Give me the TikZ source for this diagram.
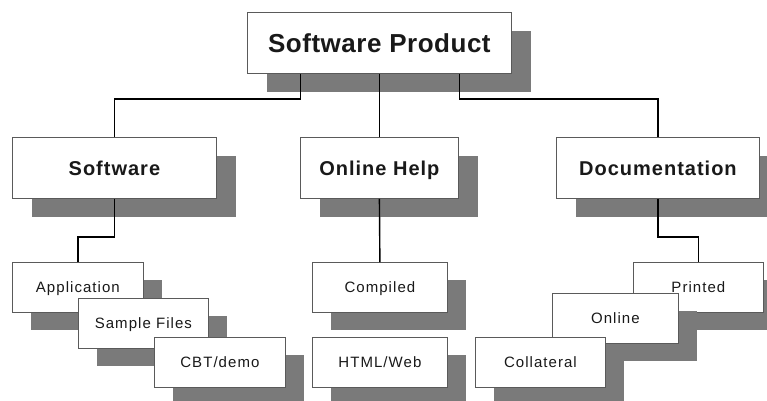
\documentclass[tikz,border=0pt]{standalone}
\usepackage{fontspec}
\setmainfont{Liberation Sans}
\newfontfamily\titlefont[LetterSpace=2]{Liberation Sans}
\newfontfamily\headfont[LetterSpace=5]{Liberation Sans}
\newfontfamily\leaffont[LetterSpace=7]{Liberation Sans}
\usepackage{tikz}
\usetikzlibrary{shadows}
\definecolor{shadowgray}{RGB}{122,122,122}
\definecolor{boxline}{RGB}{90,90,90}
\tikzset{
  card/.style={draw=boxline, line width=0.8pt, fill=white, anchor=north west,
    inner sep=0pt, align=center, text=black!90, text depth=0pt},
  bigcard/.style={card, minimum height=61pt,
    drop shadow={shadow xshift=20pt, shadow yshift=-19pt, fill=shadowgray, opacity=1}},
  headcard/.style={bigcard, text height=14.4pt, font=\headfont\bfseries\fontsize{20}{24}\selectfont},
  smallcard/.style={card, minimum width=130pt, minimum height=50pt, text height=10.8pt,
    font=\leaffont\fontsize{15}{18}\selectfont,
    drop shadow={shadow xshift=19pt, shadow yshift=-18pt, fill=shadowgray, opacity=1}},
  link/.style={draw=black, line width=1.4pt}
}

\begin{document}
\begin{tikzpicture}[x=1pt, y=-1pt]
            \useasboundingbox (0, 0) rectangle (767, 400);
            % top level
            \node[bigcard, minimum width=264pt, text height=18.7pt, font=\titlefont\bfseries\fontsize{26}{30}\selectfont] (prod) at (247, 12) {Software Product};
            % second level
            \node[headcard, minimum width=204pt] (sw) at (12, 137) {Software};
            \node[headcard, minimum width=158pt] (help) at (300, 137) {Online Help};
            \node[headcard, minimum width=203pt] (doc) at (556, 137) {Documentation};
            % leaves
            \node[smallcard, minimum width=131pt] (app) at (12, 262) {Application};
            \node[smallcard] (sample) at (78, 298) {Sample Files};
            \node[smallcard, minimum width=131pt] (cbt) at (154, 337) {CBT/demo};
            \node[smallcard, minimum width=135pt] (comp) at (312, 262) {Compiled};
            \node[smallcard, minimum width=135pt] (html) at (312, 337) {HTML/Web};
            \node[smallcard] (print) at (633, 262) {Printed};
            \node[smallcard, minimum width=126pt] (online) at (552, 293) {Online};
            \node[smallcard] (coll) at (475, 337) {Collateral};
            % connectors
            \draw[link] ([xshift=-79pt]prod.south) -- ++(0, 25) -| (sw.north);
            \draw[link] (prod.south) -- (help.north);
            \draw[link] ([xshift=80pt]prod.south) -- ++(0, 25) -| (doc.north);
            \draw[link] (sw.south) -- ++(0, 38) -| (app.north);
            \draw[link] (help.south) -- (comp.north);
            \draw[link] (doc.south) -- ++(0, 38) -| (print.north);
        \end{tikzpicture}
\end{document}
